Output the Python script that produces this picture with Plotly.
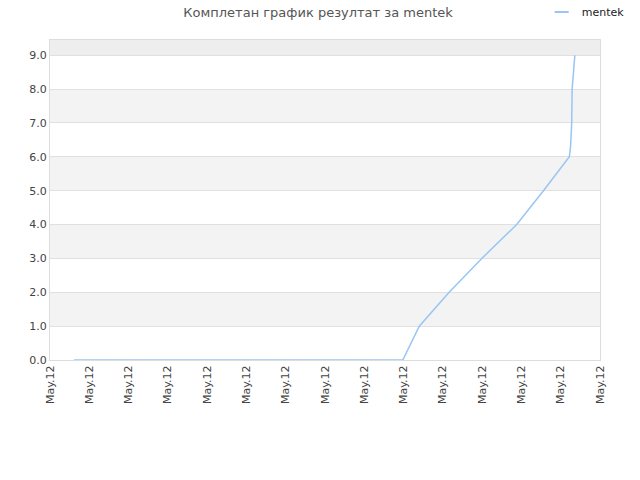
import plotly.graph_objects as go

x_vals = [0.61, 8.98, 9.40, 10.16, 10.99, 11.88, 12.56, 13.22, 13.25, 13.28, 13.29, 13.36]
y_vals = [0.0, 0.0, 1.0, 2.0, 3.0, 4.0, 5.0, 6.0, 6.3, 7.0, 8.0, 9.0]
tick_pos = list(range(15))
tick_text = ["May.12"] * 15
y_ticks = [0, 1, 2, 3, 4, 5, 6, 7, 8, 9]
series_name = "mentek"
line_color = "#99c5f3"

fig = go.Figure()

shapes = []
bands = [(1, 2), (3, 4), (5, 6), (7, 8)]
for b0, b1 in bands:
    shapes.append(dict(type="rect", xref="paper", yref="y", x0=0, x1=1, y0=b0, y1=b1,
                       fillcolor="#f3f3f3", line_width=0, layer="below"))
shapes.append(dict(type="rect", xref="paper", yref="y", x0=0, x1=1, y0=9, y1=9.45,
                   fillcolor="#eeeeee", line_width=0, layer="below"))

fig.add_trace(go.Scatter(x=x_vals, y=y_vals, mode="lines", name=series_name,
                         showlegend=False,
                         line=dict(color=line_color, width=1.5)))
# legend entry with short line symbol
fig.add_trace(go.Scatter(x=[None], y=[None], mode="markers", name=series_name,
                         marker=dict(symbol="line-ew", size=10, color=line_color,
                                     line=dict(color=line_color, width=2))))

fig.update_layout(
    width=640, height=480,
    margin=dict(l=50, r=40, t=40, b=120, autoexpand=False),
    paper_bgcolor="white", plot_bgcolor="white",
    shapes=shapes,
    title=dict(text="Комплетан график резултат за mentek", x=0.497, xanchor="center",
               y=0.975, yanchor="middle",
               font=dict(family="DejaVu Sans", size=13, color="#555555")),
    showlegend=True,
    legend=dict(x=1.054, xanchor="right", y=1.0875, yanchor="middle",
                font=dict(family="DejaVu Sans", size=11, color="#222222"),
                bgcolor="rgba(0,0,0,0)"),
    font=dict(family="DejaVu Sans", size=11, color="#444444"),
)

fig.update_xaxes(range=[0, 14], tickvals=tick_pos, ticktext=tick_text, tickangle=-90,
                 showgrid=False, zeroline=False, showline=True, linecolor="#dddddd",
                 mirror=True, ticks="", automargin=False,
                 tickfont=dict(size=11, color="#444444"))
fig.update_yaxes(range=[0, 9.45], tickvals=y_ticks, tickformat=".1f",
                 showgrid=True, gridcolor="#e0e0e0", zeroline=False, showline=True,
                 linecolor="#dddddd", mirror=True, ticks="", automargin=False,
                 tickfont=dict(size=11, color="#444444"))

fig.write_html("out.html", config={"displayModeBar": False},
               post_script="document.body.style.margin='0';")
